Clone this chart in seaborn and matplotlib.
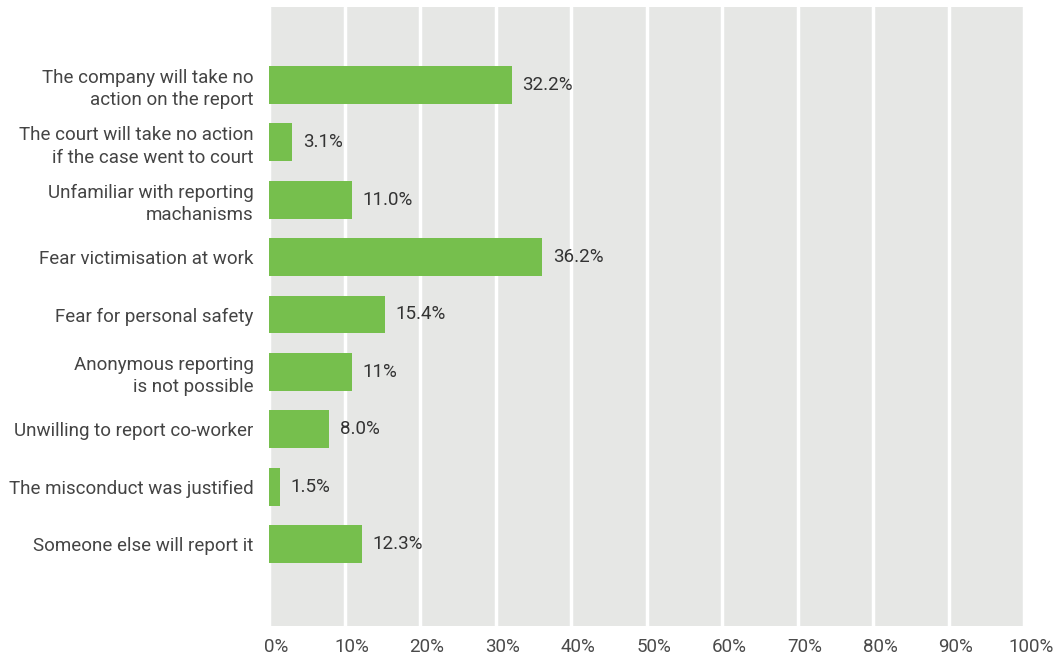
import matplotlib
matplotlib.use("Agg")
import matplotlib.pyplot as plt
import matplotlib.transforms as mtransforms
import seaborn as sns
import pandas as pd

categories = [
    "The company will take no\naction on the report",
    "The court will take no action\nif the case went to court",
    "Unfamiliar with reporting\nmachanisms",
    "Fear victimisation at work",
    "Fear for personal safety",
    "Anonymous reporting\nis not possible",
    "Unwilling to report co-worker",
    "The misconduct was justified",
    "Someone else will report it",
]
values = [32.2, 3.1, 11.0, 36.2, 15.4, 11.0, 8.0, 1.5, 12.3]
value_labels = ["32.2%", "3.1%", "11.0%", "36.2%", "15.4%", "11%", "8.0%", "1.5%", "12.3%"]
x_ticks = [0, 10, 20, 30, 40, 50, 60, 70, 80, 90, 100]

sns.set_theme(style="white")
plt.rcParams["font.family"] = ["Roboto", "DejaVu Sans"]

df = pd.DataFrame({"reason": categories, "share": values})

fig = plt.figure(figsize=(10.58, 6.57), dpi=100)
ax = fig.add_axes([269 / 1058, 1 - 626 / 657, (1024 - 269) / 1058, (626 - 7) / 657])
ax.set_facecolor("#e6e7e5")

sns.barplot(data=df, x="share", y="reason", orient="h", color="#76bf4d",
            width=0.66, saturation=1, linewidth=0, ax=ax, zorder=3)

ax.set_xlim(0, 100)
ax.set_ylim(9.42, -1.35)
ax.set_xticks(x_ticks)
ax.set_xticklabels([f"{t}%" for t in x_ticks], fontsize=13.5, color="#4a4a4a")
ax.tick_params(axis="x", length=0, pad=9)
ax.tick_params(axis="y", length=0, pad=11)
shift = mtransforms.ScaledTranslation(7 / 100, 0, fig.dpi_scale_trans)
for lbl in ax.get_xticklabels():
    lbl.set_transform(lbl.get_transform() + shift)
for lbl in ax.get_yticklabels():
    lbl.set_fontsize(13.5)
    lbl.set_color("#444444")
    lbl.set_linespacing(1.32)
ax.set_xlabel("")
ax.set_ylabel("")

for t in x_ticks:
    ax.axvline(t, color="white", lw=2.5, zorder=1)

for sp in ax.spines.values():
    sp.set_visible(False)

for i, (v, lab) in enumerate(zip(values, value_labels)):
    ax.annotate(lab, xy=(v, i), xytext=(7.5, 0), textcoords="offset points",
                va="center", ha="left", fontsize=13.5, color="#333333")

fig.savefig("out.png", dpi=100)
